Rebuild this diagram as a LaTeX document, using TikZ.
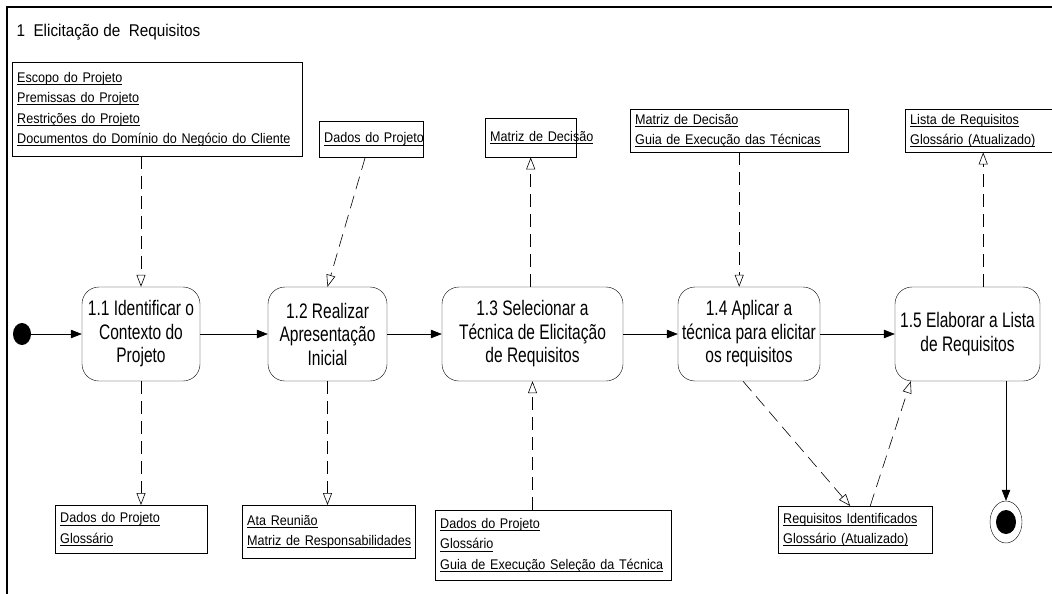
\documentclass[tikz,border=0pt]{standalone}
\usepackage{fontspec}
\setmainfont[FakeStretch=0.9]{Liberation Sans}
\newfontfamily\actfont[FakeStretch=0.74]{Liberation Sans}
\usetikzlibrary{shapes.geometric, arrows.meta, positioning}
\newcommand\sublinha[1]{\leavevmode\setbox0\hbox{#1}\rlap{\rule[-2.6pt]{\wd0}{0.7pt}}\box0}

\begin{document}
\begin{tikzpicture}[x=1pt, y=-1pt, >={Triangle[length=11pt,width=8.5pt]},
  artefato/.style={draw, anchor=north west, align=left, inner xsep=5pt, inner ysep=0pt,
    font=\fontsize{14}{20.5}\selectfont},
  atividade/.style={draw, rounded corners=17pt, align=center, inner sep=0pt,
    font=\actfont\fontsize{21}{23.5}\selectfont},
  fluxo/.style={->, semithick},
  objfluxo/.style={-{Triangle[open,length=12pt,width=9pt]}, semithick, dash pattern=on 13pt off 7pt}]
  \useasboundingbox (0,0) rectangle (1052,594);
  % moldura e titulo
  \draw[line width=1.6pt] (7,594) -- (7,7) -- (1052,7);
  \node[anchor=west, font=\fontsize{17}{20}\selectfont] (titulo) at (13,32) {1 \ Elicitação de \ Requisitos};

  % artefatos de entrada / saida (acima)
  \node[artefato, text width=280pt, minimum height=94pt] (a1) at (12,62)
    {\sublinha{Escopo do Projeto}\\\sublinha{Premissas do Projeto}\\\sublinha{Restrições do Projeto}\\\sublinha{Documentos do Domínio do Negócio do Cliente}};
  \node[artefato, text width=94pt, minimum height=36pt] (a2) at (319,121) {\sublinha{Dados do Projeto}};
  \node[artefato, text width=81pt, minimum height=39pt] (a3) at (485,118) {\sublinha{Matriz de Decisão}};
  \node[artefato, text width=208pt, minimum height=43pt] (a4) at (630,109)
    {\sublinha{Matriz de Decisão}\\\sublinha{Guia de Execução das Técnicas}};
  \node[artefato, text width=146pt, minimum height=43pt] (a5) at (905,109)
    {\sublinha{Lista de Requisitos}\\\sublinha{Glossário (Atualizado)}};

  % atividades
  \node[ellipse, fill, minimum width=18pt, minimum height=22pt, inner sep=0pt] (ini) at (22,334) {};
  \node[atividade, minimum width=118pt, minimum height=94pt] (n1) at (141,334)
    {1.1 Identificar o\\Contexto do\\Projeto};
  \node[atividade, minimum width=119pt, minimum height=94pt] (n2) at (327.5,334)
    {1.2 Realizar\\Apresentação\\Inicial};
  \node[atividade, minimum width=181pt, minimum height=94pt] (n3) at (532.5,334)
    {1.3 Selecionar a\\Técnica de Elicitação\\de Requisitos};
  \node[atividade, minimum width=142pt, minimum height=94pt] (n4) at (749,334)
    {1.4 Aplicar a\\técnica para elicitar\\os requisitos};
  \node[atividade, minimum width=145pt, minimum height=94pt] (n5) at (967.5,334)
    {1.5 Elaborar a Lista\\de Requisitos};
  \node[ellipse, draw, minimum width=32pt, minimum height=42pt, inner sep=0pt] (fim) at (1006,522) {};
  \fill (fim.center) ellipse (10 and 12);

  % artefatos (abaixo)
  \node[artefato, text width=142pt, minimum height=48pt] (b1) at (55,505)
    {\sublinha{Dados do Projeto}\\\sublinha{Glossário}};
  \node[artefato, text width=163pt, minimum height=53pt] (b2) at (242,505)
    {\sublinha{Ata Reunião}\\\sublinha{Matriz de Responsabilidades}};
  \node[artefato, text width=226pt, minimum height=70pt] (b3) at (435,510)
    {\sublinha{Dados do Projeto}\\\sublinha{Glossário}\\\sublinha{Guia de Execução Seleção da Técnica}};
  \node[artefato, text width=144pt, minimum height=47pt] (b4) at (778,506)
    {\sublinha{Requisitos Identificados}\\\sublinha{Glossário (Atualizado)}};

  % fluxo de controle
  \draw[fluxo] (ini) -- (n1);
  \draw[fluxo] (n1) -- (n2);
  \draw[fluxo] (n2) -- (n3);
  \draw[fluxo] (n3) -- (n4);
  \draw[fluxo] (n4) -- (n5);
  \draw[fluxo] (n5.south -| fim) -- (fim.north);

  % fluxo de objetos
  \draw[objfluxo] (a1.south -| n1.north) -- (n1.north);
  \draw[objfluxo] ([xshift=-6pt]a2.south) -- (n2.north);
  \draw[objfluxo] (n3.north -| a3.south) -- (a3.south);
  \draw[objfluxo] (a4.south) -- (a4.south |- n4.north);
  \draw[objfluxo] (n5.north -| a5.south) -- (a5.south);
  \draw[objfluxo] (n1.south) -- (b1.north -| n1.south);
  \draw[objfluxo] (n2.south) -- (b2.north -| n2.south);
  \draw[objfluxo] (b3.north -| n3.south) -- (n3.south);
  \draw[objfluxo] ([xshift=-6pt]n4.south) -- ([xshift=-5pt]b4.north);
  \draw[objfluxo] ([xshift=15pt]b4.north) -- ([xshift=16pt]n5.south west);
\end{tikzpicture}
\end{document}
